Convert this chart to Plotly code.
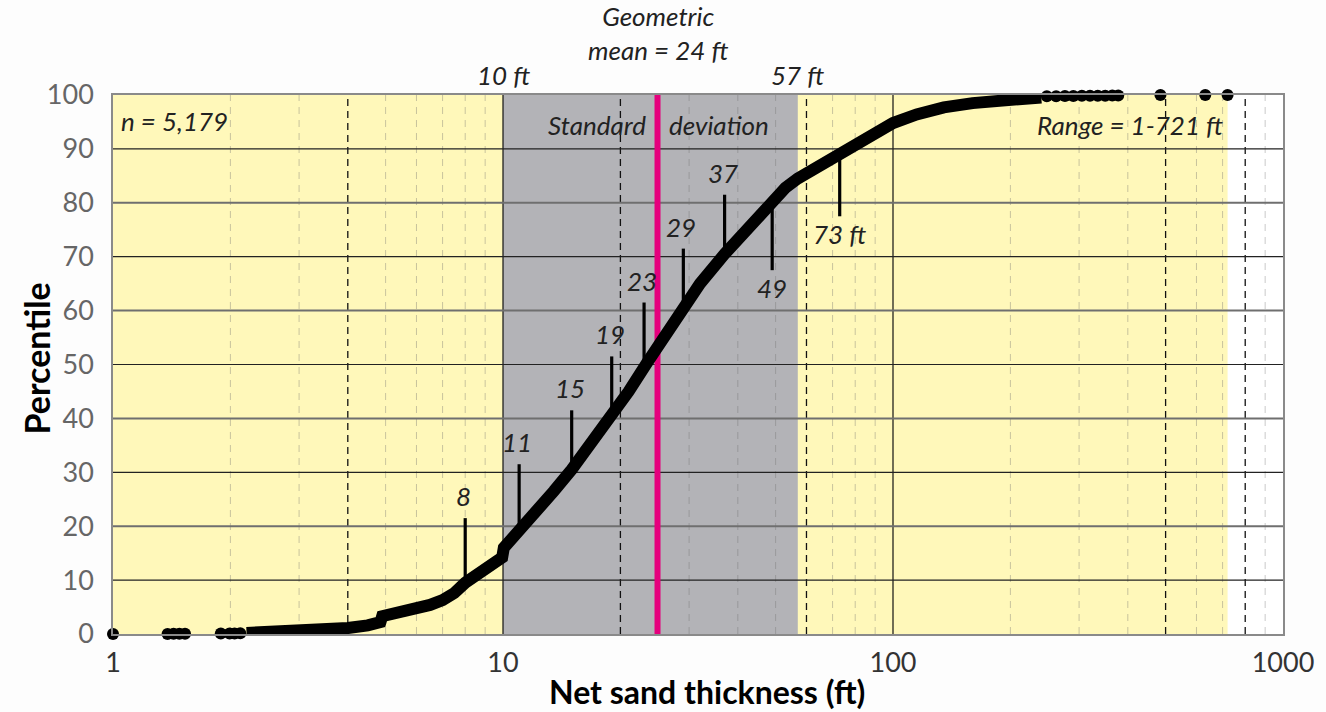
import math
import plotly.graph_objects as go

# ---------------- data ----------------
# continuous part of the cumulative curve (thickness ft, percentile)
curve_x = [2.2, 2.5, 3.0, 3.5, 4.0, 4.5, 4.85, 4.9, 5.5, 6.0, 6.5, 7.0, 7.5, 8.0,
           8.5, 9.0, 9.6, 9.95, 10.05, 10.5, 11.0, 11.75, 12.5, 13.5, 15.0, 16.5,
           18.0, 19.5, 21.0, 23.5, 26.0, 29.0, 32.0, 37.0, 42.0, 49.0, 53.0, 57.0,
           65.0, 75.0, 85.0, 100.0, 115.0, 135.0, 160.0, 185.0, 210.0, 240.0]
curve_p = [0.2, 0.35, 0.55, 0.8, 1.1, 1.6, 2.2, 3.3, 4.0, 4.7, 5.4, 6.3, 7.6, 9.5,
           10.8, 12.3, 13.5, 14.2, 16.0, 17.5, 19.0, 21.0, 23.5, 26.5, 30.5, 34.5,
           38.0, 41.5, 45.0, 50.5, 55.5, 60.5, 65.0, 70.5, 75.0, 80.5, 82.8, 84.5,
           87.0, 89.7, 92.0, 94.8, 96.4, 97.7, 98.5, 99.0, 99.3, 99.55]

# isolated sample points at the tails
dot_x = [1.0, 1.38, 1.43, 1.48, 1.53, 1.89, 1.99, 2.05, 2.12,
         248, 262, 276, 290, 305, 320, 335, 350, 365, 378, 485, 632, 721]
dot_p = [0, 0.02, 0.03, 0.04, 0.05, 0.08, 0.1, 0.11, 0.12,
         99.75, 99.78, 99.8, 99.82, 99.84, 99.86, 99.87, 99.88, 99.89, 99.9, 100, 100, 100]

# decile markers
decile_x = [8, 11, 15, 19, 23, 29, 37, 49, 73]
decile_p = [10, 20, 30, 40, 50, 60, 70, 80, 90]
decile_lbl = ["8", "11", "15", "19", "23", "29", "37", "49", "73 ft"]
decile_up = [True, True, True, True, True, True, True, False, False]

n_samples = "5,179"
range_min, range_max = 1, 721
sd_low, sd_high = 10, 57
geo_mean = 24
geo_mean_pos = 24.9

x_ticks = [1, 10, 100, 1000]
y_ticks = [0, 10, 20, 30, 40, 50, 60, 70, 80, 90, 100]

grid_black = [4, 20, 60, 500, 800]
grid_major = [10, 100]
grid_light = [2, 3, 5, 6, 7, 8, 9, 30, 40, 50, 70, 80, 90, 200, 300, 400, 600, 700, 900]

FONT = "Lato"
L = math.log10  # annotations on a log axis are positioned in log10 units

fig = go.Figure()
shapes = []

# backgrounds
shapes.append(dict(type="rect", xref="x", yref="y", x0=range_min, x1=range_max, y0=0, y1=100,
                   fillcolor="#FFF8BA", line_width=0, layer="below"))
shapes.append(dict(type="rect", xref="x", yref="y", x0=sd_low, x1=sd_high, y0=0, y1=100,
                   fillcolor="#B3B3B7", line_width=0, layer="below"))

# vertical grid
for v in grid_light:
    shapes.append(dict(type="line", xref="x", yref="y", x0=v, x1=v, y0=0, y1=100,
                       line=dict(color="rgba(110,110,110,0.38)", width=1, dash="7px,6px"), layer="below"))
for v in grid_black:
    shapes.append(dict(type="line", xref="x", yref="y", x0=v, x1=v, y0=0, y1=100,
                       line=dict(color="#111", width=1.3, dash="7px,5px"), layer="below"))
for v in grid_major:
    shapes.append(dict(type="line", xref="x", yref="y", x0=v, x1=v, y0=0, y1=100,
                       line=dict(color="#111", width=1.2), layer="below"))
# horizontal grid
for h in y_ticks[1:-1]:
    if h % 20 == 0:
        shapes.append(dict(type="line", xref="x", yref="y", x0=x_ticks[0], x1=x_ticks[-1], y0=h, y1=h,
                           line=dict(color="#6f6f6f", width=2), layer="below"))
    else:
        shapes.append(dict(type="line", xref="x", yref="y", x0=x_ticks[0], x1=x_ticks[-1], y0=h, y1=h,
                           line=dict(color="#222", width=1.2), layer="below"))

# geometric mean line
shapes.append(dict(type="line", xref="x", yref="y", x0=geo_mean_pos, x1=geo_mean_pos, y0=0, y1=103.6,
                   line=dict(color="#E5007D", width=6), layer="below"))

# decile stems
stem_x, stem_y = [], []
for xv, pv, up in zip(decile_x, decile_p, decile_up):
    stem_x += [xv, xv, None]
    stem_y += [pv, pv + 11.5 if up else pv - 12.5, None]
fig.add_trace(go.Scatter(x=stem_x, y=stem_y, mode="lines", line=dict(color="black", width=3.2),
                         hoverinfo="skip", showlegend=False))

# curve
fig.add_trace(go.Scatter(x=curve_x, y=curve_p, mode="lines", line=dict(color="black", width=12),
                         showlegend=False, cliponaxis=False))
fig.add_trace(go.Scatter(x=dot_x, y=dot_p, mode="markers", marker=dict(color="black", size=12),
                         showlegend=False, cliponaxis=False))

ital = dict(family=FONT, size=26, color="#222")
ann = []
for xv, pv, up, lbl in zip(decile_x, decile_p, decile_up, decile_lbl):
    if up:
        ann.append(dict(x=L(xv), y=pv + 11.5, xref="x", yref="y", text=f"<i>{lbl}</i>", showarrow=False,
                        yanchor="bottom", yshift=4, xshift=-2, font=ital))
    else:
        ann.append(dict(x=L(xv), y=pv - 12.5, xref="x", yref="y", text=f"<i>{lbl}</i>", showarrow=False,
                        yanchor="top", yshift=0, font=ital))

ann.append(dict(x=0.005, y=95.2, xref="paper", yref="y", text=f"<i>n = {n_samples}</i>", showarrow=False,
                xanchor="left", yanchor="middle", font=ital))
ann.append(dict(x=L(geo_mean_pos), y=94.5, xref="x", yref="y", text="<i>Standard</i>", showarrow=False,
                xanchor="right", yanchor="middle", xshift=-10, font=ital))
ann.append(dict(x=L(geo_mean_pos), y=94.5, xref="x", yref="y", text="<i>deviation</i>", showarrow=False,
                xanchor="left", yanchor="middle", xshift=9, font=ital))
ann.append(dict(x=0.95, y=94.5, xref="paper", yref="y", text=f"<i>Range = {range_min}-{range_max} ft</i>",
                showarrow=False, xanchor="right", yanchor="middle", font=ital))
ann.append(dict(x=L(sd_low), y=100, xref="x", yref="y", text=f"<i>{sd_low} ft</i>", showarrow=False,
                yanchor="bottom", yshift=2, font=ital))
ann.append(dict(x=L(sd_high), y=100, xref="x", yref="y", text=f"<i>{sd_high} ft</i>", showarrow=False,
                yanchor="bottom", yshift=2, font=ital))
ann.append(dict(x=L(geo_mean_pos), y=1.0, xref="x", yref="paper",
                text=f"<i>Geometric<br>mean = {geo_mean} ft</i>", showarrow=False,
                yanchor="bottom", yshift=27, font=ital))

ann.append(dict(x=0.5, y=0, xref="paper", yref="paper", text="<b>Net sand thickness (ft)</b>",
                showarrow=False, yanchor="top", yshift=-36, xshift=9,
                font=dict(family=FONT, size=32, color="black")))
ann.append(dict(x=0, y=0.5, xref="paper", yref="paper", text="<b>Percentile</b>", textangle=-90,
                showarrow=False, xanchor="center", xshift=-77, yshift=6,
                font=dict(family=FONT, size=34, color="black")))

fig.update_layout(
    width=1326, height=712, autosize=False,
    margin=dict(l=113, r=36, t=95, b=78),
    paper_bgcolor="#FDFDFD", plot_bgcolor="white",
    shapes=shapes, annotations=ann, showlegend=False,
    xaxis=dict(type="log", range=[0, 3], tickvals=x_ticks, ticktext=[str(t) for t in x_ticks],
               showgrid=False, zeroline=False, showline=True, linecolor="#8a8a8a", linewidth=1.5,
               mirror=True, ticks="", ticklabelstandoff=4,
               tickfont=dict(family=FONT, size=27, color="#333")),
    yaxis=dict(range=[0, 100], tickvals=y_ticks, showgrid=False, zeroline=False, showline=True,
               linecolor="#8a8a8a", linewidth=1.5, mirror=True, ticks="", ticklabelstandoff=12,
               tickfont=dict(family=FONT, size=27, color="#666")),
)

fig.write_html("out.html")
